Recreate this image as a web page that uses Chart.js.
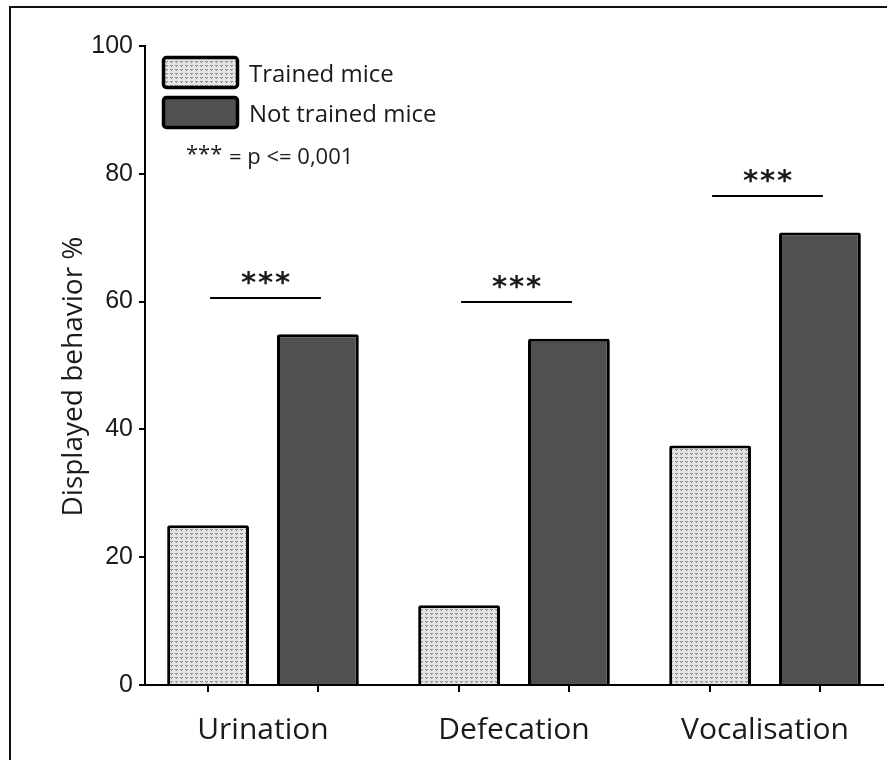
<!DOCTYPE html>
<html>
<head>
<meta charset="utf-8">
<title>Displayed behavior</title>
<script src="https://cdn.jsdelivr.net/npm/chart.js@4.4.1/dist/chart.umd.min.js"></script>
<style>
    html, body { margin: 0; padding: 0; background: #fff; overflow: hidden; }
    #wrap { position: relative; width: 887px; height: 760px; overflow: hidden; }
    #behaviorChart { position: absolute; left: 0; top: 0; }
    #frame {
        position: absolute; left: 9px; top: 6px; width: 900px; height: 800px;
        border-top: 2px solid #111; border-left: 2px solid #111; pointer-events: none;
    }
</style>
</head>
<body>
<div id="wrap">
    <canvas id="behaviorChart" width="887" height="760"></canvas>
    <div id="frame"></div>
</div>
<script>
// Data
const categories = ["Urination", "Defecation", "Vocalisation"];
const trainedValues = [25, 12.5, 37.5];
const notTrainedValues = [54.9, 54.2, 70.8];
const significanceLevels = [60.5, 60, 76.5];
const yTicks = [0, 20, 40, 60, 80, 100];
const seriesLabels = ["Trained mice", "Not trained mice"];

const textColor = "#1a1a1a";
const darkFill = "#505050";

// small dotted tile for the trained bars
function makeDotFill() {
    const tile = document.createElement("canvas");
    tile.width = 5;
    tile.height = 4;
    const c = tile.getContext("2d");
    c.fillStyle = "#e4e4e4";
    c.fillRect(0, 0, 5, 4);
    c.fillStyle = "#858585";
    c.fillRect(0, 1, 1, 1);
    c.fillRect(2, 1, 1, 1);
    c.fillRect(1, 2, 1, 1);
    c.fillStyle = "#b8b8b8";
    c.fillRect(1, 1, 1, 1);
    return c.createPattern(tile, "repeat");
}
const dotFill = makeDotFill();

const toPoints = (vals) => vals.map((v, i) => ({ x: i, y: v }));

// Axis title, tick marks under bars, significance bars and legend
const annotations = {
    id: "annotations",
    afterDatasetsDraw(chart) {
        const ctx = chart.ctx;
        const area = chart.chartArea;
        const yScale = chart.scales.y;
        const trainedMeta = chart.getDatasetMeta(0);
        const notTrainedMeta = chart.getDatasetMeta(1);

        ctx.save();
        ctx.strokeStyle = "#000";
        ctx.lineWidth = 2;

        // tick marks below each bar
        [trainedMeta, notTrainedMeta].forEach((meta) => {
            meta.data.forEach((bar) => {
                const x = Math.round(bar.x);
                ctx.beginPath();
                ctx.moveTo(x, area.bottom);
                ctx.lineTo(x, area.bottom + 7);
                ctx.stroke();
            });
        });

        // significance brackets
        ctx.fillStyle = textColor;
        ctx.textAlign = "center";
        ctx.textBaseline = "alphabetic";
        ctx.font = "bold 29px 'DejaVu Sans'";
        categories.forEach((_, i) => {
            const x1 = trainedMeta.data[i].x + 2;
            const x2 = notTrainedMeta.data[i].x + 3;
            const y = Math.round(yScale.getPixelForValue(significanceLevels[i]));
            ctx.beginPath();
            ctx.moveTo(x1, y);
            ctx.lineTo(x2, y);
            ctx.stroke();
            const mid = (x1 + x2) / 2;
            [-17, 0, 17].forEach((dx) => ctx.fillText("*", mid + dx, y - 6));
        });

        // legend
        ctx.textAlign = "left";
        chart.data.datasets.forEach((ds, i) => {
            const top = 57 + i * 40;
            ctx.beginPath();
            ctx.roundRect(163.5, top + 0.5, 74, 30, 3);
            ctx.fillStyle = ds.backgroundColor;
            ctx.fill();
            ctx.lineWidth = 3.5;
            ctx.strokeStyle = "#000";
            ctx.stroke();
            ctx.fillStyle = textColor;
            ctx.font = "24px 'Open Sans'";
            ctx.fillText(ds.label, 249, top + 25);
        });
        ctx.font = "22px 'Open Sans'";
        ctx.fillText("***", 186, 161);
        ctx.fillText("= p <= 0,001", 229, 164);

        // y axis title
        ctx.translate(82, (area.top + area.bottom) / 2 + 11);
        ctx.rotate(-Math.PI / 2);
        ctx.textAlign = "center";
        ctx.font = "28px 'Open Sans'";
        ctx.fillText("Displayed behavior %", 0, 0);
        ctx.restore();
    },
};

const chartCtx = document.getElementById("behaviorChart").getContext("2d");
new Chart(chartCtx, {
    type: "bar",
    data: {
        datasets: [
            {
                label: seriesLabels[0],
                data: toPoints(trainedValues),
                backgroundColor: dotFill,
                borderColor: "#000",
                borderWidth: 3,
                borderRadius: 2,
                borderSkipped: "bottom",
                categoryPercentage: 0.875,
                barPercentage: 0.745,
            },
            {
                label: seriesLabels[1],
                data: toPoints(notTrainedValues),
                backgroundColor: darkFill,
                borderColor: "#000",
                borderWidth: 3,
                borderRadius: 2,
                borderSkipped: "bottom",
                categoryPercentage: 0.875,
                barPercentage: 0.745,
            },
        ],
    },
    options: {
        responsive: false,
        animation: false,
        layout: { padding: { top: 46, right: 4, left: 0, bottom: 0 } },
        plugins: {
            legend: { display: false },
            tooltip: { enabled: false },
        },
        scales: {
            x: {
                type: "linear",
                offset: false,
                min: -0.47,
                max: 2.47,
                afterBuildTicks: (scale) => {
                    scale.ticks = categories.map((_, i) => ({ value: i }));
                },
                afterFit: (scale) => {
                    scale.height = 75;
                },
                grid: { display: false, drawTicks: false },
                border: { display: true, color: "#000", width: 2 },
                ticks: {
                    callback: (value) => categories[value],
                    font: { family: "'Open Sans'", size: 30 },
                    color: textColor,
                    padding: 27,
                    maxRotation: 0,
                    autoSkip: false,
                },
            },
            y: {
                min: 0,
                max: 100,
                afterBuildTicks: (scale) => {
                    scale.ticks = yTicks.map((v) => ({ value: v }));
                },
                afterFit: (scale) => {
                    scale.width = 145;
                },
                grid: {
                    drawOnChartArea: false,
                    drawTicks: true,
                    tickLength: 6,
                    color: "#000",
                    lineWidth: 2,
                },
                border: { color: "#000", width: 2 },
                ticks: {
                    font: { family: "'Liberation Sans', Arial", size: 25 },
                    color: textColor,
                    padding: 6,
                },
            },
        },
    },
    plugins: [annotations],
});
</script>
</body>
</html>
